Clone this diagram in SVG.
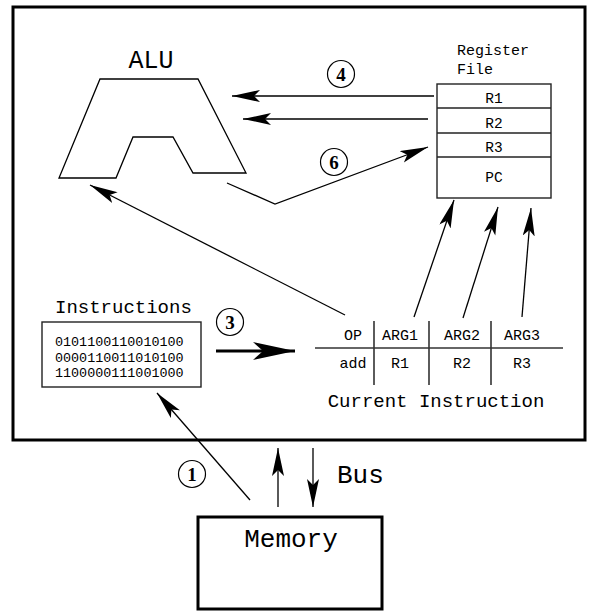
<svg xmlns="http://www.w3.org/2000/svg" width="592" height="611" viewBox="0 0 592 611">
  <style>
    .mono { font-family: "Liberation Mono", "Courier New", monospace; fill: #000; }
    .num { font-family: "Liberation Serif", "Times New Roman", serif; font-weight: bold; font-size: 19px; fill: #000; }
    .thin { fill: none; stroke: #000; stroke-width: 1.3; }
    .box { fill: #fff; stroke: #222; stroke-width: 1.4; }
    .heavy { fill: none; stroke: #000; stroke-width: 3; }
    .ring { fill: none; stroke: #000; stroke-width: 1.2; }
  </style>
  <defs>
    <marker id="head" markerUnits="userSpaceOnUse" markerWidth="30" markerHeight="14" refX="28" refY="6" orient="auto">
      <path d="M0,0 L28,6 L0,12 L6,6 Z" fill="#000"/>
    </marker>
    <marker id="bighead" markerUnits="userSpaceOnUse" markerWidth="44" markerHeight="20" refX="42" refY="9" orient="auto">
      <path d="M0,0 L42,9 L0,18 L10,9 Z" fill="#000"/>
    </marker>
  </defs>

  <rect width="592" height="611" fill="#fff"/>

  <!-- CPU outline -->
  <g id="cpu">
    <rect x="13" y="7" width="572" height="433" class="heavy"/>
  </g>

  <!-- ALU -->
  <g id="alu">
    <text x="151" y="68" class="mono" font-size="25" text-anchor="middle">ALU</text>
    <polygon points="100,79 198,79 246,173 193,173 173,137 133,137 116,178 59,178" class="thin"/>
  </g>

  <!-- Register file -->
  <g id="register-file">
    <text x="457" y="55" class="mono" font-size="15">Register</text>
    <text x="457" y="74" class="mono" font-size="15">File</text>
    <rect x="437" y="84" width="114" height="114" class="box"/>
    <line x1="437" y1="108" x2="551" y2="108" stroke="#222" stroke-width="1.4"/>
    <line x1="437" y1="133" x2="551" y2="133" stroke="#222" stroke-width="1.4"/>
    <line x1="437" y1="157" x2="551" y2="157" stroke="#222" stroke-width="1.4"/>
    <text x="494" y="103" class="mono" font-size="14.5" text-anchor="middle">R1</text>
    <text x="494" y="128" class="mono" font-size="14.5" text-anchor="middle">R2</text>
    <text x="494" y="152" class="mono" font-size="14.5" text-anchor="middle">R3</text>
    <text x="494" y="182" class="mono" font-size="14.5" text-anchor="middle">PC</text>
  </g>

  <!-- Instruction memory buffer -->
  <g id="instructions">
    <text x="55" y="313" class="mono" font-size="19">Instructions</text>
    <rect x="42" y="322" width="159" height="65" class="box"/>
    <text x="55" y="346" class="mono" font-size="13.4">0101100110010100</text>
    <text x="55" y="361.5" class="mono" font-size="13.4">0000110011010100</text>
    <text x="55" y="377" class="mono" font-size="13.4">1100000111001000</text>
  </g>

  <!-- Current instruction table -->
  <g id="current-instruction">
    <line x1="315" y1="348" x2="563" y2="348" stroke="#333" stroke-width="1.6"/>
    <line x1="374" y1="321" x2="374" y2="385" stroke="#333" stroke-width="1.6"/>
    <line x1="429" y1="321" x2="429" y2="385" stroke="#333" stroke-width="1.6"/>
    <line x1="491" y1="321" x2="491" y2="385" stroke="#333" stroke-width="1.6"/>
    <text x="353" y="340" class="mono" font-size="15" text-anchor="middle">OP</text>
    <text x="400" y="340" class="mono" font-size="15" text-anchor="middle">ARG1</text>
    <text x="462" y="340" class="mono" font-size="15" text-anchor="middle">ARG2</text>
    <text x="522" y="340" class="mono" font-size="15" text-anchor="middle">ARG3</text>
    <text x="353" y="368" class="mono" font-size="15" text-anchor="middle">add</text>
    <text x="400" y="368" class="mono" font-size="15" text-anchor="middle">R1</text>
    <text x="462" y="368" class="mono" font-size="15" text-anchor="middle">R2</text>
    <text x="522" y="368" class="mono" font-size="15" text-anchor="middle">R3</text>
    <text x="436" y="407" class="mono" font-size="19" text-anchor="middle">Current Instruction</text>
  </g>

  <!-- Main memory -->
  <g id="memory">
    <rect x="198" y="517" width="184" height="92" fill="#fff" stroke="#000" stroke-width="3"/>
    <text x="291" y="547" class="mono" font-size="26" text-anchor="middle">Memory</text>
  </g>

  <!-- Step numbers -->
  <g id="steps">
    <circle cx="341" cy="74" r="13.5" class="ring"/>
    <text x="341" y="80.5" class="num" text-anchor="middle">4</text>
    <circle cx="334" cy="162" r="13.5" class="ring"/>
    <text x="334" y="168.5" class="num" text-anchor="middle">6</text>
    <circle cx="230" cy="322" r="13.5" class="ring"/>
    <text x="230" y="328.5" class="num" text-anchor="middle">3</text>
    <circle cx="192" cy="474" r="13.5" class="ring"/>
    <text x="192" y="480.5" class="num" text-anchor="middle">1</text>
  </g>

  <text x="337" y="483" class="mono" font-size="26">Bus</text>

  <!-- Connectors -->
  <g id="connectors">
    <line x1="434" y1="96" x2="232" y2="96" class="thin" marker-end="url(#head)"/>
    <line x1="428" y1="119" x2="243" y2="119" class="thin" marker-end="url(#head)"/>
    <polyline points="227,183 275,204 428,147" class="thin" marker-end="url(#head)"/>
    <line x1="345" y1="315" x2="90" y2="185" class="thin" marker-end="url(#head)"/>
    <line x1="414" y1="317" x2="454" y2="200" class="thin" marker-end="url(#head)"/>
    <line x1="463" y1="318" x2="498" y2="207" class="thin" marker-end="url(#head)"/>
    <line x1="522" y1="317" x2="531" y2="208" class="thin" marker-end="url(#head)"/>
    <line x1="216" y1="351" x2="295" y2="351" class="heavy" marker-end="url(#bighead)"/>
    <line x1="250" y1="500" x2="157" y2="393" class="thin" marker-end="url(#head)"/>
    <line x1="278" y1="507" x2="278" y2="448" class="thin" marker-end="url(#head)"/>
    <line x1="313" y1="448" x2="313" y2="507" class="thin" marker-end="url(#head)"/>
  </g>
</svg>
